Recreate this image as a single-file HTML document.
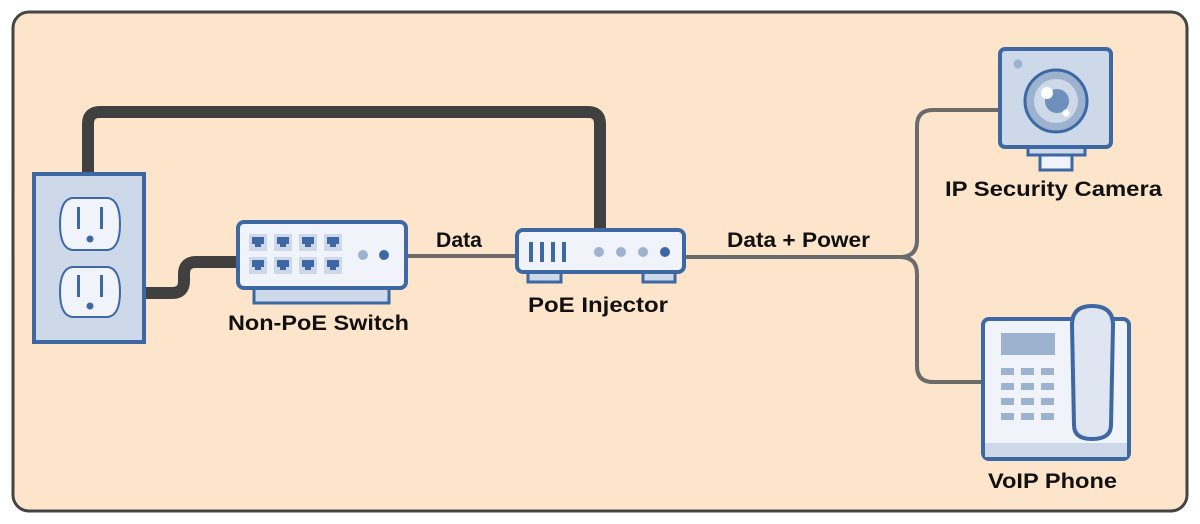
<!DOCTYPE html>
<html><head><meta charset="utf-8"><style>
html,body{margin:0;padding:0;background:#fff;}
svg{display:block;}
text{font-family:"Liberation Sans",Arial,sans-serif;font-weight:bold;fill:#111;font-size:21px;}
</style></head><body>
<svg width="1200" height="524" viewBox="0 0 1200 524" xmlns="http://www.w3.org/2000/svg">
<rect x="13" y="12" width="1174" height="499" rx="16" fill="#fde5cc" stroke="#444" stroke-width="3"/>
<path d="M88 175 V124 Q88 112 100 112 H588 Q600 112 600 124 V232" fill="none" stroke="#404040" stroke-width="12"/>
<path d="M144 293 H172 Q184 293 184 281 V274 Q184 262 196 262 H240" fill="none" stroke="#404040" stroke-width="12"/>
<line x1="405" y1="256" x2="518" y2="256" stroke="#6b6b6b" stroke-width="4"/>
<path d="M684 257 H900 Q917 257 917 240 V126 Q917 110 933 110 H1000" fill="none" stroke="#6b6b6b" stroke-width="4"/>
<path d="M900 257 Q917 257 917 274 V366 Q917 382 933 382 H984" fill="none" stroke="#6b6b6b" stroke-width="4"/>
<text x="436" y="247" textLength="46" lengthAdjust="spacingAndGlyphs">Data</text>
<text x="727" y="247" textLength="143" lengthAdjust="spacingAndGlyphs">Data + Power</text>
<rect x="34" y="174" width="110" height="168" fill="#cdd9e8" stroke="#3d68a4" stroke-width="4"/>
<g fill="#f0f3f9" stroke="#3d68a4" stroke-width="2">
<path d="M72 198 H108 Q120 200 120 224 Q120 248 108 250 H72 Q60 248 60 224 Q60 200 72 198 Z"/>
<path d="M72 267 H108 Q120 269 120 292 Q120 315 108 317 H72 Q60 315 60 292 Q60 269 72 267 Z"/>
</g>
<g fill="#3d68a4">
<rect x="77" y="207" width="3" height="22"/><rect x="100" y="207" width="3" height="22"/><circle cx="90" cy="239" r="3.5"/>
<rect x="77" y="275" width="3" height="22"/><rect x="100" y="275" width="3" height="22"/><circle cx="90" cy="306" r="3.5"/>
</g>
<rect x="254" y="287" width="135" height="16" fill="#cdd9e8" stroke="#3d68a4" stroke-width="3"/>
<rect x="238" y="222" width="168" height="66" rx="6" fill="#f0f3f9" stroke="#3d68a4" stroke-width="4"/>
<g fill="#cdd9e8">
<rect x="249" y="234" width="18" height="17"/><rect x="274" y="234" width="18" height="17"/><rect x="299" y="234" width="18" height="17"/><rect x="324" y="234" width="18" height="17"/>
<rect x="249" y="257" width="18" height="17"/><rect x="274" y="257" width="18" height="17"/><rect x="299" y="257" width="18" height="17"/><rect x="324" y="257" width="18" height="17"/>
</g>
<g fill="#3d68a4">
<rect x="252" y="237" width="12" height="7"/><rect x="255" y="244" width="6" height="3"/>
<rect x="277" y="237" width="12" height="7"/><rect x="280" y="244" width="6" height="3"/>
<rect x="302" y="237" width="12" height="7"/><rect x="305" y="244" width="6" height="3"/>
<rect x="327" y="237" width="12" height="7"/><rect x="330" y="244" width="6" height="3"/>
<rect x="252" y="260" width="12" height="7"/><rect x="255" y="267" width="6" height="3"/>
<rect x="277" y="260" width="12" height="7"/><rect x="280" y="267" width="6" height="3"/>
<rect x="302" y="260" width="12" height="7"/><rect x="305" y="267" width="6" height="3"/>
<rect x="327" y="260" width="12" height="7"/><rect x="330" y="267" width="6" height="3"/>
<circle cx="384" cy="255" r="5"/>
</g>
<circle cx="363" cy="255" r="5" fill="#9db2cf"/>
<text x="228" y="330" textLength="181" lengthAdjust="spacingAndGlyphs">Non-PoE Switch</text>
<rect x="528" y="270" width="33" height="12" fill="#cdd9e8" stroke="#3d68a4" stroke-width="3"/>
<rect x="643" y="270" width="32" height="12" fill="#cdd9e8" stroke="#3d68a4" stroke-width="3"/>
<rect x="517" y="230" width="167" height="42" rx="6" fill="#f0f3f9" stroke="#3d68a4" stroke-width="4"/>
<g fill="#3d68a4">
<rect x="529" y="242" width="4" height="20"/><rect x="540" y="242" width="4" height="20"/><rect x="551" y="242" width="4" height="20"/><rect x="562" y="242" width="4" height="20"/>
<circle cx="665" cy="252" r="5"/>
</g>
<g fill="#9db2cf"><circle cx="599" cy="252" r="5"/><circle cx="621" cy="252" r="5"/><circle cx="643" cy="252" r="5"/></g>
<text x="528" y="312" textLength="140" lengthAdjust="spacingAndGlyphs">PoE Injector</text>
<rect x="1028" y="146" width="57" height="9" fill="#cdd9e8" stroke="#3d68a4" stroke-width="3"/>
<rect x="1040" y="155" width="32" height="15" fill="#f0f3f9" stroke="#3d68a4" stroke-width="3"/>
<rect x="1000" y="49" width="111" height="98" rx="5" fill="#cdd9e8" stroke="#3d68a4" stroke-width="4"/>
<circle cx="1018" cy="64" r="4.5" fill="#9db2cf"/>
<circle cx="1056" cy="101" r="31" fill="#9db2cf" stroke="#3d68a4" stroke-width="3"/>
<circle cx="1056" cy="101" r="22" fill="#cdd9e8"/>
<circle cx="1057" cy="101" r="12" fill="#6f8fbd"/>
<circle cx="1047" cy="93" r="6" fill="#fff"/>
<circle cx="1066" cy="113" r="3.5" fill="#fff"/>
<text x="945" y="196" textLength="217" lengthAdjust="spacingAndGlyphs">IP Security Camera</text>
<rect x="983" y="319" width="146" height="140" rx="6" fill="#f0f3f9" stroke="#3d68a4" stroke-width="4"/>
<rect x="985" y="443" width="142" height="14" fill="#cdd9e8"/>
<rect x="1001" y="333" width="54" height="22" fill="#9db2cf"/>
<g fill="#9db2cf">
<rect x="1001" y="368" width="13" height="7"/><rect x="1021" y="368" width="13" height="7"/><rect x="1041" y="368" width="13" height="7"/>
<rect x="1001" y="383" width="13" height="7"/><rect x="1021" y="383" width="13" height="7"/><rect x="1041" y="383" width="13" height="7"/>
<rect x="1001" y="398" width="13" height="7"/><rect x="1021" y="398" width="13" height="7"/><rect x="1041" y="398" width="13" height="7"/>
<rect x="1001" y="413" width="13" height="7"/><rect x="1021" y="413" width="13" height="7"/><rect x="1041" y="413" width="13" height="7"/>
</g>
<path d="M1072 325 Q1072 306 1092 306 Q1113 306 1113 325 L1111 425 Q1111 439 1092 439 Q1074 439 1074 425 Z" fill="#dfe6f1" stroke="#3d68a4" stroke-width="4"/>
<text x="988" y="488" textLength="129" lengthAdjust="spacingAndGlyphs">VoIP Phone</text>
</svg>
</body></html>
